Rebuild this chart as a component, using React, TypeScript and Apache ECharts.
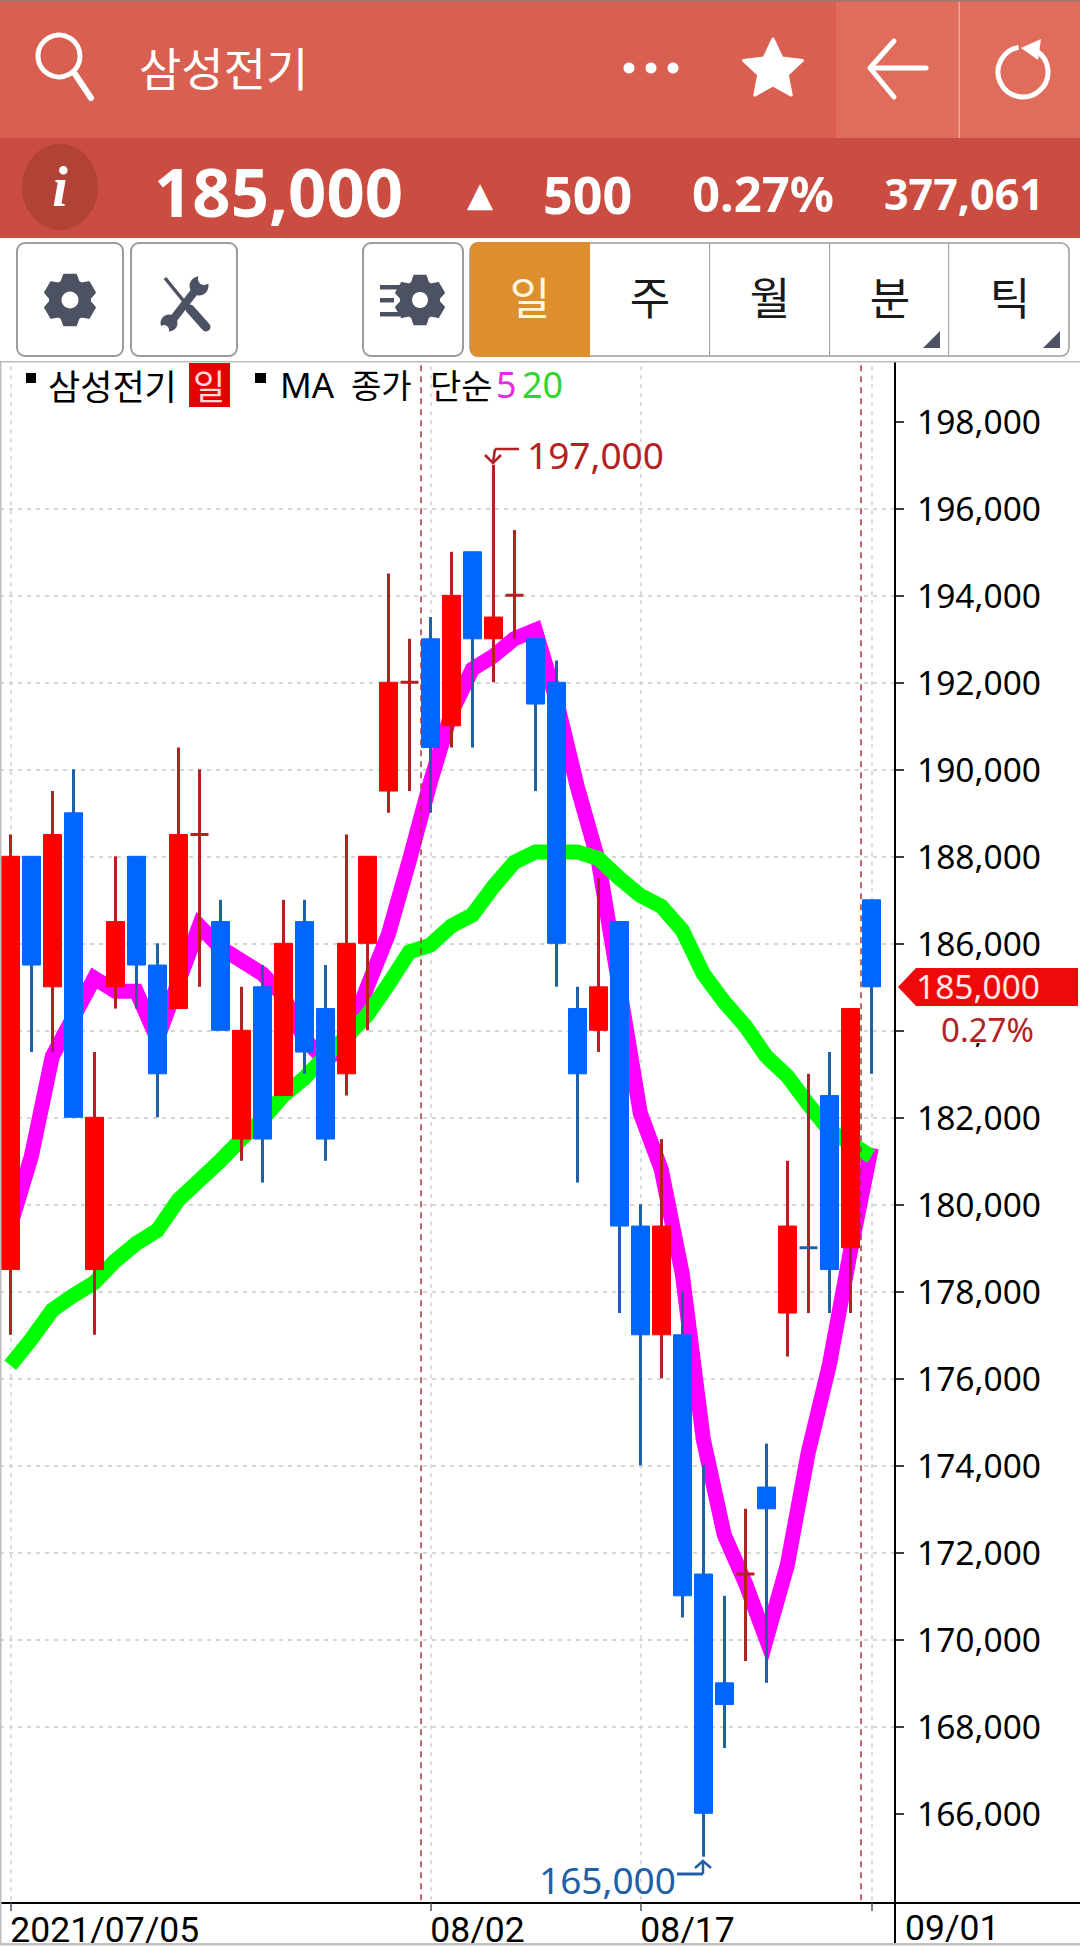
import React, { useEffect, useRef } from "react";
import * as echarts from "echarts";

// ---------- data ----------
const dates = ["2021/07/05","07/06","07/07","07/08","07/09","07/12","07/13","07/14","07/15","07/16","07/19","07/20","07/21","07/22","07/23","07/26","07/27","07/28","07/29","07/30","08/02","08/03","08/04","08/05","08/06","08/09","08/10","08/11","08/12","08/13","08/17","08/18","08/19","08/20","08/23","08/24","08/25","08/26","08/27","08/30","08/31","09/01"];
const opens = [178500,188000,185000,189000,178500,185000,188000,185500,184500,188500,186500,181500,185000,182500,186500,184500,183000,186000,189500,192000,193000,191000,195000,193000,194000,193000,192000,184500,184000,186500,179500,177000,177000,171500,169000,171500,173500,177500,179000,182500,179000,187000];
const closes = [188000,185500,188500,182000,182000,186500,185500,183000,188500,188500,184000,184000,181500,186000,183500,181500,186000,188000,192000,192000,190500,194000,193000,193500,194000,191500,186000,183000,185000,179500,177000,179500,171000,166000,168500,171500,173000,179500,179000,178500,184500,185000];
const lows = [177000,183500,183500,182000,177000,184500,184500,182000,184500,185000,184000,181000,180500,182500,183000,181000,182500,184000,189000,189500,189000,190500,190500,192000,193000,189500,185000,180500,183500,177500,174000,176000,170500,165000,167500,169500,169000,176500,177500,177500,177500,183000];
const highs = [188500,188000,189500,190000,183500,188000,188000,186000,190500,190000,187000,185000,185500,187000,187000,185500,188500,188000,194500,193000,193500,195000,195000,197000,195500,193000,192500,185000,187500,186500,180000,181500,178000,174000,171000,173000,174500,181000,183000,183500,184500,187000];
const ma5 = [179500,181100,183400,184300,185200,184900,184900,183800,185100,186400,185900,185600,185300,184800,183800,183300,183700,185000,186200,187900,189700,191300,192300,192600,193000,193200,191600,189600,187900,185000,182100,180800,178400,174600,172400,171300,170000,171700,174300,176300,178900,181300];
const ma20 = [176300,176900,177570,177900,178200,178700,179100,179400,180100,180550,181000,181500,181950,182500,182900,183400,183850,184350,185050,185800,185960,186400,186650,187300,187860,188100,188100,188100,187950,187500,187100,186850,186300,185300,184650,184100,183400,182950,182300,181700,181400,181100];
const yTicks = [166000,168000,170000,172000,174000,176000,178000,180000,182000,184000,186000,188000,190000,192000,194000,196000,198000];
const xLabelIdx = [0, 20, 30];
const xTickIdx = [0, 20, 30, 41];
const monthSplits = [19.55, 40.5];
const lastPrice = "185,000";
const changePct = "0.27%";

const NOTO = '"Noto Sans","Noto Sans CJK KR",sans-serif';
const KR = '"Noto Sans CJK KR","Noto Sans",sans-serif';
const RED = "#ff0000", BLUE = "#0066ff", DRED = "#b22222", DBLUE = "#2060a8", GEAR = "#4d5263";

const isDoji = (i: number) => opens[i] === closes[i];
const wickData = dates.map((_, i) => [i, opens[i], closes[i], lows[i], highs[i]]);
const bodyData = dates.map((_, i) => {
  const v = [i, opens[i], closes[i], Math.min(opens[i], closes[i]), Math.max(opens[i], closes[i])];
  if (!isDoji(i)) return v;
  const c = i === 38 ? DBLUE : DRED;
  return { value: v, itemStyle: { color: c, color0: c, borderColor: c, borderColor0: c, borderColorDoji: c, borderWidth: 3 } };
});

function gear(cx: number, cy: number, ro: number, ri: number, teeth: number) {
  const pts: number[][] = [];
  const step = (Math.PI * 2) / teeth;
  for (let k = 0; k < teeth; k++) {
    const a = k * step - Math.PI / 2;
    [[-0.42, ri], [-0.22, ro], [0.22, ro], [0.42, ri]].forEach(([d, r]) => {
      pts.push([cx + Math.cos(a + d * step) * r, cy + Math.sin(a + d * step) * r]);
    });
  }
  return pts;
}
function star(cx: number, cy: number, ro: number, ri: number) {
  const pts: number[][] = [];
  for (let k = 0; k < 10; k++) {
    const a = -Math.PI / 2 + (k * Math.PI) / 5;
    const r = k % 2 ? ri : ro;
    pts.push([cx + Math.cos(a) * r, cy + Math.sin(a) * r]);
  }
  return pts;
}

function headerGraphics(): any[] {
  const rect = (x: number, y: number, w: number, h: number, fill: string, extra: any = {}) => ({ type: "rect", shape: { x, y, width: w, height: h, r: extra.r || 0 }, style: { fill, stroke: extra.stroke, lineWidth: extra.lw } });
  const line = (x1: number, y1: number, x2: number, y2: number, stroke: string, lw: number, cap = "butt") => ({ type: "line", shape: { x1, y1, x2, y2 }, style: { stroke, lineWidth: lw, lineCap: cap } });
  const text = (t: string, x: number, y: number, size: number, fill: string, o: any = {}) => ({ type: "text", style: { text: t, x, y, fill, fontSize: size, fontFamily: o.family || NOTO, fontWeight: o.weight || "normal", fontStyle: o.style || "normal", textAlign: o.align || "left", textVerticalAlign: "middle" } });
  const W = "#ffffff";
  const els: any[] = [
    rect(0, 0, 1080, 362, "#ffffff"),
    rect(0, 0, 1080, 138, "#d95f50"),
    rect(0, 0, 1080, 2, "#a9746c"),
    rect(836, 2, 244, 136, "#e06d5c"),
    rect(958.5, 2, 1.5, 136, "#f0a598"),
    rect(0, 138, 1080, 100, "#cb4c40"),
    // top bar
    { type: "circle", shape: { cx: 59, cy: 56, r: 21 }, style: { fill: "none", stroke: W, lineWidth: 5 } },
    line(75, 74, 91, 98, W, 6, "round"),
    text("삼성전기", 139, 66, 46, W, { family: KR }),
    { type: "circle", shape: { cx: 629, cy: 68, r: 5.5 }, style: { fill: W } },
    { type: "circle", shape: { cx: 651, cy: 68, r: 5.5 }, style: { fill: W } },
    { type: "circle", shape: { cx: 673, cy: 68, r: 5.5 }, style: { fill: W } },
    { type: "polygon", shape: { points: star(773, 70, 31, 15) }, style: { fill: W, stroke: W, lineWidth: 3, lineJoin: "round" } },
    { type: "polyline", shape: { points: [[894, 41], [870, 68], [894, 97]] }, style: { fill: "none", stroke: W, lineWidth: 5, lineCap: "round", lineJoin: "round" } },
    line(872, 68, 926, 68, W, 5, "round"),
    { type: "arc", shape: { cx: 1023, cy: 72, r: 25, startAngle: -1.0, endAngle: -1.75, clockwise: true }, style: { fill: "none", stroke: W, lineWidth: 5 } },
    { type: "polygon", shape: { points: [[1021, 48], [1041, 39], [1038, 60]] }, style: { fill: W } },
    // quote bar
    { type: "ellipse", shape: { cx: 60, cy: 187, rx: 38, ry: 43 }, style: { fill: "#b14236" } },
    text("i", 60, 187, 56, W, { family: '"Liberation Serif",serif', weight: "bold", style: "italic", align: "center" }),
    text("185,000", 154, 191, 67, W, { weight: "bold" }),
    text("▲", 480, 194, 34, W, { family: '"DejaVu Sans",sans-serif', align: "center" }),
    text("500", 543, 193, 52, W, { weight: "bold" }),
    text("0.27%", 692, 193, 49, W, { weight: "bold" }),
    text("377,061", 884, 193, 43, W, { weight: "bold" }),
    // tool buttons
    rect(17, 243, 106, 113, "#ffffff", { r: 8, stroke: "#9c9c9c", lw: 2 }),
    rect(131, 243, 106, 113, "#ffffff", { r: 8, stroke: "#9c9c9c", lw: 2 }),
    rect(363, 243, 100, 113, "#ffffff", { r: 8, stroke: "#9c9c9c", lw: 2 }),
    { type: "polygon", shape: { points: gear(70, 300, 26, 20, 6) }, style: { fill: GEAR, stroke: GEAR, lineWidth: 2, lineJoin: "round" } },
    { type: "circle", shape: { cx: 70, cy: 300, r: 8.5 }, style: { fill: "#ffffff" } },
    // tools
    line(165, 278, 195, 315, GEAR, 3.5),
    line(190, 309, 206, 327, GEAR, 9, "round"),
    line(171, 322, 198, 287, GEAR, 8, "round"),
    { type: "circle", shape: { cx: 199, cy: 286, r: 9.5 }, style: { fill: GEAR } },
    { type: "circle", shape: { cx: 204, cy: 279, r: 6 }, style: { fill: "#ffffff" } },
    { type: "circle", shape: { cx: 169, cy: 323, r: 8.5 }, style: { fill: GEAR } },
    { type: "circle", shape: { cx: 164, cy: 330, r: 5 }, style: { fill: "#ffffff" } },
    // list gear
    rect(380, 285, 20, 4.5, GEAR),
    rect(380, 298, 14, 4.5, GEAR),
    rect(380, 312, 20, 4.5, GEAR),
    { type: "polygon", shape: { points: gear(420, 300, 25, 19, 6) }, style: { fill: GEAR, stroke: GEAR, lineWidth: 2, lineJoin: "round" } },
    { type: "circle", shape: { cx: 420, cy: 300, r: 8 }, style: { fill: "#ffffff" } },
    // period tabs
    rect(470, 243, 599, 113, "#ffffff", { r: 8, stroke: "#9c9c9c", lw: 1.5 }),
    { type: "rect", shape: { x: 470, y: 242, width: 120, height: 115, r: [8, 0, 0, 8] }, style: { fill: "#dd8f30" } },
    rect(709, 243, 1.2, 113, "#a8a8a8"),
    rect(829, 243, 1.2, 113, "#a8a8a8"),
    rect(948, 243, 1.2, 113, "#a8a8a8"),
    text("일", 530, 296, 44, "#fff6e0", { family: KR, align: "center" }),
    text("주", 650, 296, 44, "#1a1a1a", { family: KR, align: "center" }),
    text("월", 770, 296, 44, "#1a1a1a", { family: KR, align: "center" }),
    text("분", 890, 296, 44, "#1a1a1a", { family: KR, align: "center" }),
    text("틱", 1010, 296, 44, "#1a1a1a", { family: KR, align: "center" }),
    { type: "polygon", shape: { points: [[923, 348], [940, 348], [940, 331]] }, style: { fill: GEAR } },
    { type: "polygon", shape: { points: [[1043, 348], [1060, 348], [1060, 331]] }, style: { fill: GEAR } },
    rect(0, 361, 1080, 1.5, "#bdbdbd"),
    rect(0, 361, 1.5, 1582, "#bdbdbd"),
    // bottom frame
    line(895, 1900, 895, 1943, "#000000", 2),
    line(895, 1903, 1080, 1903, "#000000", 2),
    rect(0, 1943, 1080, 2.5, "#c2c2c2"),
    text(dates[41], 905, 1928, 35.5, "#000000", { family: "Roboto,sans-serif" }),
    // legend
    rect(26, 373, 10, 10, "#000000"),
    text("삼성전기", 48, 384, 35, "#000000", { family: KR }),
    rect(189, 363, 41, 44, "#e60000"),
    text("일", 209, 384, 35, "#ffd8d8", { family: KR, align: "center" }),
    rect(255, 373, 11, 10, "#000000"),
    text("MA", 280, 384, 35, "#000000"),
    text("종가", 351, 384, 33, "#000000", { family: KR }),
    text("단순", 430, 384, 34, "#000000", { family: KR }),
    text("5", 496, 384, 36, "#e22de2"),
    text("20", 522, 384, 36, "#2fd52f"),
    // extrema annotations
    text("197,000", 527, 454, 37, DRED),
    line(519, 449, 495, 449, DRED, 2.5),
    line(495, 449, 493, 463, DRED, 2.5),
    { type: "polyline", shape: { points: [[485, 455], [493, 463], [501, 455]] }, style: { fill: "none", stroke: DRED, lineWidth: 2.5 } },
    text("165,000", 539, 1879, 37, DBLUE),
    line(677, 1874, 703, 1874, DBLUE, 3),
    line(703, 1874, 703, 1861, DBLUE, 2.5),
    { type: "polyline", shape: { points: [[695, 1868], [703, 1861], [711, 1868]] }, style: { fill: "none", stroke: DBLUE, lineWidth: 2.5 } },
    // last price tag
    rect(906, 1006, 173, 37, "#ffffff"),
    { type: "polygon", shape: { points: [[898, 987], [916, 968], [1078, 968], [1078, 1006], [916, 1006]] }, style: { fill: "#ee0a0a" } },
    text(lastPrice, 916, 986, 33.5, "#ffe6e6"),
    text(changePct, 941, 1029, 33, DRED),
  ];
  return els.map((e) => ({ ...e, z: 100, silent: true }));
}

export default function App() {
  const ref = useRef<HTMLDivElement>(null);
  useEffect(() => {
    document.body.style.margin = "0";
    document.body.style.overflow = "hidden";
    const chart = echarts.init(ref.current!, null, { renderer: "svg" });
    const gridDash = { color: "#c9c9c9", width: 1.5, type: [4, 5] as number[] };
    chart.setOption({
      animation: false,
      backgroundColor: "#ffffff",
      grid: { left: 0, top: 334.3, width: 895, height: 1566 },
      xAxis: {
        type: "value",
        min: -0.49,
        max: 42.13,
        offset: 2.7,
        splitLine: { show: false },
        axisLine: { show: true, onZero: false, lineStyle: { color: "#000000", width: 2 } },
        axisTick: { show: true, customValues: xTickIdx, length: 8, lineStyle: { color: "#555555", width: 1.5 } },
        axisLabel: {
          show: true,
          customValues: xLabelIdx,
          margin: 9,
          align: "left",
          color: "#000000",
          fontSize: 35.5,
          fontFamily: "Roboto,sans-serif",
          formatter: (v: number) => dates[Math.round(v)],
        },
      },
      yAxis: {
        type: "value",
        position: "right",
        min: 164000,
        max: 200000,
        interval: 2000,
        splitLine: { show: true, showMinLine: false, showMaxLine: false, lineStyle: gridDash },
        axisLine: { show: true, onZero: false, lineStyle: { color: "#000000", width: 2 } },
        axisTick: { show: true, customValues: yTicks, length: 9, lineStyle: { color: "#000000", width: 1.5 } },
        axisLabel: {
          show: true,
          customValues: yTicks,
          margin: 22,
          padding: [3, 0, 0, 0],
          color: "#000000",
          fontSize: 33.5,
          fontFamily: NOTO,
          formatter: (v: number) => v.toLocaleString("en-US"),
        },
      },
      graphic: { elements: headerGraphics() },
      series: [
        {
          type: "line",
          name: "MA5",
          data: ma5.map((v, i) => [i, v]),
          showSymbol: false,
          z: 2,
          silent: true,
          lineStyle: { color: "#ff00ff", width: 15, join: "miter", cap: "butt" },
          markLine: {
            silent: true,
            symbol: "none",
            z: 1,
            label: { show: false },
            lineStyle: { color: "#cfcfcf", width: 1.5, type: [4, 5] },
            data: xTickIdx.map((i) => ({ xAxis: i })),
          },
        },
        {
          type: "line",
          name: "MA20",
          data: ma20.map((v, i) => [i, v]),
          showSymbol: false,
          z: 3,
          silent: true,
          lineStyle: { color: "#00ff00", width: 15, join: "miter", cap: "butt" },
          markLine: {
            silent: true,
            symbol: "none",
            z: 10,
            label: { show: false },
            lineStyle: { color: "#a8393f", width: 1.5, type: [6, 5] },
            data: monthSplits.map((x) => ({ xAxis: x })),
          },
        },
        {
          type: "candlestick",
          name: "wick",
          data: wickData,
          barWidth: 1,
          z: 4,
          silent: true,
          itemStyle: { color: DRED, color0: DBLUE, borderColor: DRED, borderColor0: DBLUE, borderColorDoji: DRED, borderWidth: 3 },
        },
        {
          type: "candlestick",
          name: "삼성전기",
          data: bodyData,
          barWidth: 18,
          z: 5,
          silent: true,
          itemStyle: { color: RED, color0: BLUE, borderColor: RED, borderColor0: BLUE, borderColorDoji: RED, borderWidth: 1 },
        },
      ],
    });
    return () => chart.dispose();
  }, []);
  return <div ref={ref} style={{ width: 1080, height: 1950 }} />;
}
